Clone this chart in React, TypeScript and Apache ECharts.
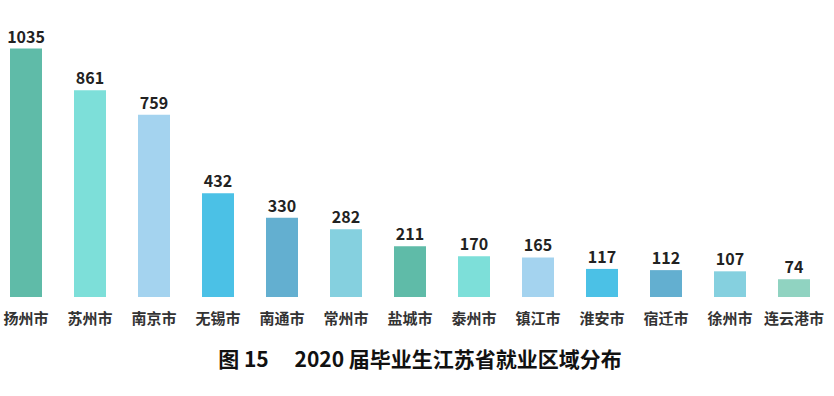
import React, { useEffect, useRef } from "react";
import * as echarts from "echarts";

const categories = ["扬州市", "苏州市", "南京市", "无锡市", "南通市", "常州市", "盐城市", "泰州市", "镇江市", "淮安市", "宿迁市", "徐州市", "连云港市"];
const values = [1035, 861, 759, 432, 330, 282, 211, 170, 165, 117, 112, 107, 74];
const colors = ["#5fbba8", "#7ddfd9", "#a4d3ef", "#4bc1e6", "#63afd0", "#85d0df", "#5fbba8", "#7ddfd9", "#a4d3ef", "#4bc1e6", "#63afd0", "#85d0df", "#90d3c1"];
const title = "图 15　 2020 届毕业生江苏省就业区域分布";

export default function App() {
  const ref = useRef<HTMLDivElement>(null);
  useEffect(() => {
    if (!ref.current) return;
    const chart = echarts.init(ref.current, undefined, { renderer: "svg" });
    chart.setOption({
      animation: false,
      backgroundColor: "#ffffff",
      graphic: [
        {
          type: "text",
          x: 426,
          y: 358,
          style: {
            text: title,
            align: "center",
            verticalAlign: "middle",
            fontFamily: "Noto Sans CJK SC",
            fontSize: 21,
            fontWeight: "bold",
            fill: "#111",
          },
        },
      ],
      grid: { left: 0, width: 832, top: 33, height: 264 },
      xAxis: {
        type: "category",
        data: categories,
        axisLine: { show: false },
        axisTick: { show: false },
        axisLabel: { interval: 0, margin: 13, fontFamily: "Noto Sans CJK SC", fontSize: 15, fontWeight: "bold", color: "#333" },
      },
      yAxis: { type: "value", min: 0, max: 1100, show: false, splitLine: { show: false } },
      series: [
        {
          type: "bar",
          barWidth: 32,
          data: values.map((v, i) => ({ value: v, itemStyle: { color: colors[i] } })),
          label: {
            show: true,
            position: "top",
            distance: 5,
            fontFamily: "Noto Sans CJK SC",
            fontSize: 16,
            fontWeight: "bold",
            color: "#222",
          },
        },
      ],
    });
    return () => chart.dispose();
  }, []);
  return <div ref={ref} style={{ position: "fixed", left: -6, top: 0, width: 840, height: 396 }} />;
}
